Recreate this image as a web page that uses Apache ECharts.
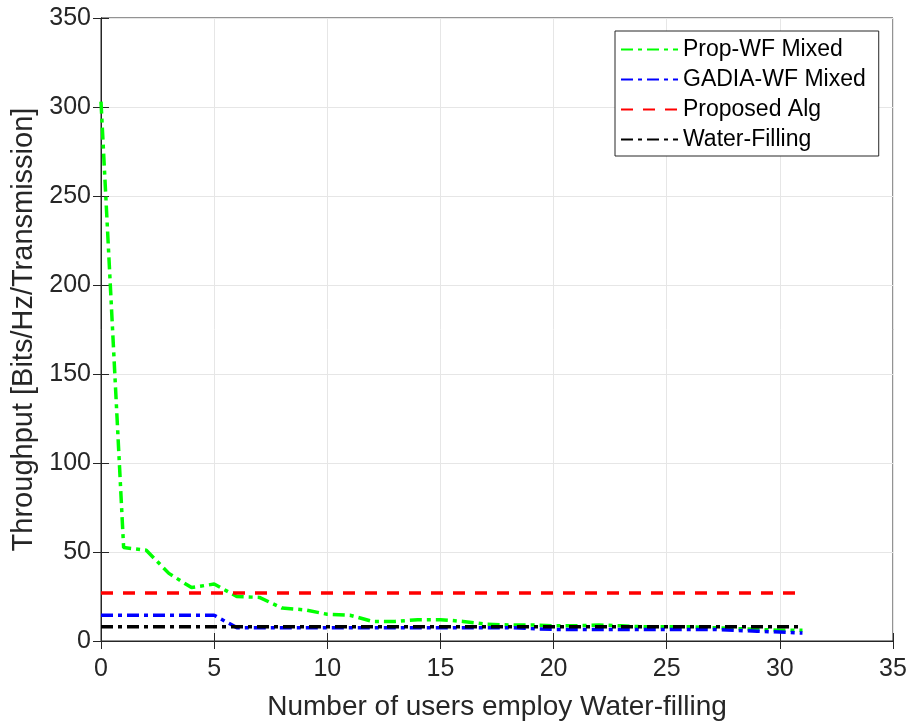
<!DOCTYPE html>
<html><head><meta charset="utf-8">
<script src="https://cdn.jsdelivr.net/npm/echarts@6/dist/echarts.min.js"></script>
<style>html,body{margin:0;padding:0;background:#fff}#c{width:910px;height:726px}</style>
</head><body><div id="c"></div>
<script>
const users = Array.from({length: 32}, (_, i) => i);
const propWF = [303, 52.5, 51, 38, 30, 32, 25, 24.5, 18.5, 17.5, 15, 14.5, 11, 11, 12, 12, 11, 9.5, 9, 9, 8.5, 8.5, 9, 8.5, 8, 8, 8, 7.5, 7, 6.5, 6, 6];
const gadiaWF = [14.5, 14.5, 14.5, 14.5, 14.5, 14.5, 7.5, 7.5, 7.5, 7.5, 7.5, 7.5, 7.5, 7.5, 7.5, 7.5, 7.5, 7.5, 7.5, 7, 6.5, 6.5, 6.5, 6.5, 6.5, 6.5, 6.5, 6.5, 6, 5.5, 5, 4.5];
const proposed = users.map(() => 27);
const waterFilling = users.map(() => 8);
const names = ['Prop-WF Mixed', 'GADIA-WF Mixed', 'Proposed Alg', 'Water-Filling'];

const font = 'Liberation Sans, Arial, Helvetica, sans-serif';
const chart = echarts.init(document.getElementById('c'));
const pair = d => users.map((u, i) => [u, d[i]]);
const mk = (name, data, color, type) => ({
  name, type: 'line', data: pair(data), symbol: 'none', xAxisIndex: 0, yAxisIndex: 0,
  lineStyle: {color, width: 3.5, type}, itemStyle: {color}, animation: false
});
const dashdot = [12, 5, 4, 5];
chart.setOption({
  animation: false,
  grid: {left: 101, right: 17, top: 18, bottom: 84, show: true, borderColor: '#262626', borderWidth: 1},
  legend: {
    orient: 'vertical', left: 615, top: 31, data: names,
    backgroundColor: '#fff', borderColor: '#262626', borderWidth: 1,
    padding: [7, 13, 5, 5], itemGap: 7, itemWidth: 57, itemHeight: 14,
    itemStyle: {opacity: 0},
    textStyle: {fontFamily: font, fontSize: 23, color: '#000'}
  },
  xAxis: [{
    type: 'value', min: 0, max: 35, interval: 5, position: 'bottom',
    name: 'Number of users employ Water-filling', nameLocation: 'middle', nameGap: 52,
    nameTextStyle: {fontFamily: font, fontSize: 28, color: '#262626'},
    axisLine: {lineStyle: {color: '#262626'}},
    axisTick: {inside: true, length: 8, lineStyle: {color: '#262626'}},
    axisLabel: {fontFamily: font, fontSize: 25, color: '#262626', margin: 16},
    splitLine: {lineStyle: {color: '#e6e6e6'}}
  }, {
    type: 'value', min: 0, max: 35, interval: 5, position: 'top',
    axisLine: {lineStyle: {color: '#262626'}},
    axisTick: {inside: true, length: 8, lineStyle: {color: '#262626'}},
    axisLabel: {show: false}, splitLine: {show: false}
  }],
  yAxis: [{
    type: 'value', min: 0, max: 350, interval: 50, position: 'left',
    name: 'Throughput [Bits/Hz/Transmission]', nameLocation: 'middle', nameGap: 55,
    nameTextStyle: {fontFamily: font, fontSize: 29, color: '#262626'},
    axisLine: {show: true, lineStyle: {color: '#262626'}},
    axisTick: {show: true, inside: true, length: 8, lineStyle: {color: '#262626'}},
    axisLabel: {fontFamily: font, fontSize: 25, color: '#262626', margin: 10},
    splitLine: {lineStyle: {color: '#e6e6e6'}}
  }, {
    type: 'value', min: 0, max: 350, interval: 50, position: 'right',
    axisLine: {show: true, lineStyle: {color: '#262626'}},
    axisTick: {show: true, inside: true, length: 8, lineStyle: {color: '#262626'}},
    axisLabel: {show: false}, splitLine: {show: false}
  }],
  series: [
    mk(names[0], propWF, '#00ff00', dashdot),
    mk(names[1], gadiaWF, '#0000ff', dashdot),
    mk(names[2], proposed, '#ff0000', [12, 10]),
    mk(names[3], waterFilling, '#000000', dashdot)
  ]
});
</script></body></html>
